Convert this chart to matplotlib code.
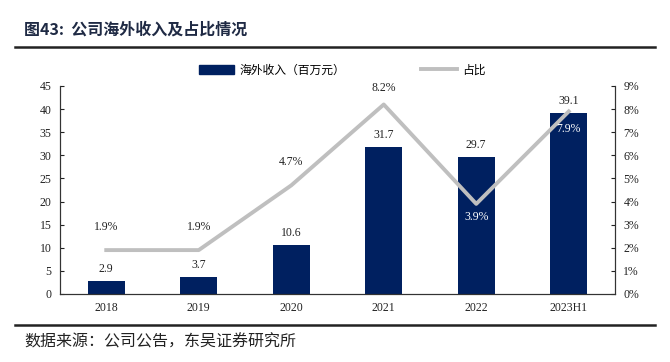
import matplotlib
matplotlib.use("Agg")
import matplotlib.pyplot as plt
from matplotlib.lines import Line2D
from matplotlib.patches import Patch
import numpy as np

categories = ["2018", "2019", "2020", "2021", "2022", "2023H1"]
revenue = [2.9, 3.7, 10.6, 31.7, 29.7, 39.1]
share = [1.9, 1.9, 4.7, 8.2, 3.9, 7.9]
left_ticks = [0, 5, 10, 15, 20, 25, 30, 35, 40, 45]
right_ticks = [0, 1, 2, 3, 4, 5, 6, 7, 8, 9]

navy = "#002060"
grey = "#BFBFBF"
serif = ["Liberation Serif", "DejaVu Serif"]
cjk = ["Noto Sans CJK SC", "DejaVu Sans"]

fig = plt.figure(figsize=(6.70, 3.62), dpi=100)
ax = fig.add_axes([60/670, 1-294/362, (615-60)/670, (294-86)/362])
ax2 = ax.twinx()

x = np.arange(len(categories))
ax.bar(x, revenue, width=0.4, color=navy, zorder=2)
ax2.plot(x, share, color=grey, lw=2.8, zorder=3)

ax.set_xlim(-0.5, len(categories)-0.5)
ax.set_ylim(0, 45)
ax2.set_ylim(0, 9)
ax.set_yticks(left_ticks)
ax2.set_yticks(right_ticks)
ax2.set_yticklabels([f"{t}%" for t in right_ticks])
ax.set_xticks(x)
ax.set_xticklabels(categories)

for a in (ax, ax2):
    a.spines["top"].set_visible(False)
    for s in a.spines.values():
        s.set_linewidth(0.8)
        s.set_color("#333333")
    a.tick_params(axis="y", direction="in", length=3, width=0.8, labelsize=8.5, colors="#222222", pad=6)
    for lab in a.get_yticklabels():
        lab.set_family(serif)
ax.tick_params(axis="x", length=0, labelsize=8.5, colors="#222222", pad=6)
for lab in ax.get_xticklabels():
    lab.set_family(serif)

# bar value labels
for i, v in enumerate(revenue):
    ax.text(i, v + 1.3, f"{v:.1f}", ha="center", va="bottom", fontsize=8.5, family=serif, color="#222222")

# share labels
offsets = [0.75, 0.75, 0.75, 0.45, -0.3, -0.5]
colors = ["#222222", "#222222", "#222222", "#222222", "white", "white"]
for i, v in enumerate(share):
    va = "bottom" if offsets[i] > 0 else "top"
    ax2.text(i, v + offsets[i], f"{v:.1f}%", ha="center", va=va, fontsize=8.5, family=serif,
             color=colors[i], zorder=4)

# legend
handles = [Patch(facecolor=navy, edgecolor=navy), Line2D([0], [0], color=grey, lw=2.8)]
fig.legend(handles, ["海外收入（百万元）", "占比"], loc="center", bbox_to_anchor=(342/670, 1-70/362),
           ncol=2, frameon=False, prop={"family": cjk, "size": 8.5}, columnspacing=6.5,
           handlelength=3.0, handleheight=0.7, handletextpad=0.4)

# title and separators
fig.text(24/670, 1-30/362, "图43:  公司海外收入及占比情况", fontsize=11.5, fontweight="bold",
         family=cjk, color="#1F2A44", va="center", ha="left")
fig.add_artist(Line2D([15/670, 655/670], [1-47/362, 1-47/362], color="#222222", lw=1.8))
fig.add_artist(Line2D([15/670, 655/670], [1-325/362, 1-325/362], color="#222222", lw=1.8))
fig.text(24/670, 1-342/362, "数据来源：公司公告，东吴证券研究所", fontsize=11.5, family=cjk,
         color="#222222", va="center", ha="left")

fig.savefig("out.png", dpi=100)
